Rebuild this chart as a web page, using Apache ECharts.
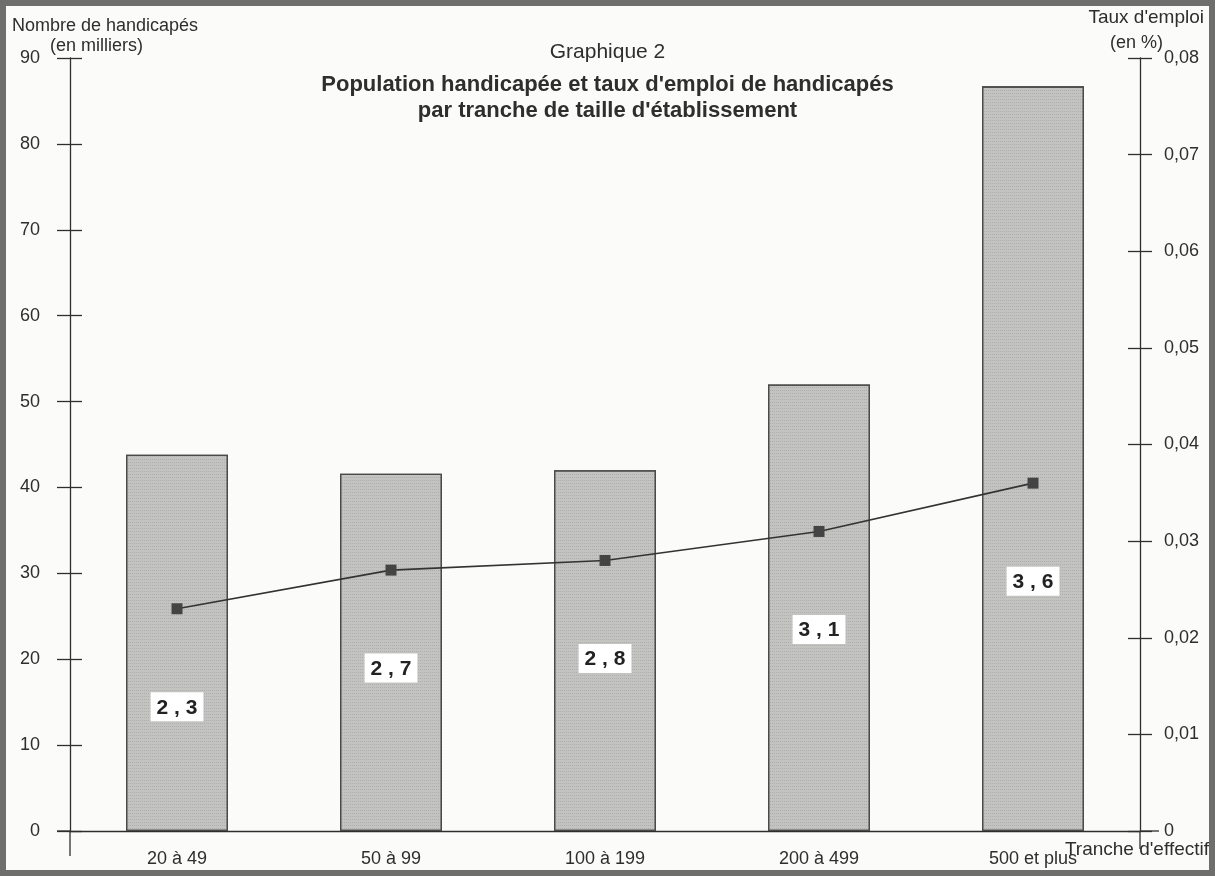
<!DOCTYPE html>
<html>
<head>
<meta charset="utf-8">
<script src="https://cdn.jsdelivr.net/npm/echarts@6/dist/echarts.min.js"></script>
<style>
  html, body { margin: 0; padding: 0; background: #fbfbf9; }
  #chart { width: 1215px; height: 876px; }
</style>
</head>
<body>
<div id="chart"></div>
<script>
// Tranches de taille d'établissement
const categories = ['20 à 49', '50 à 99', '100 à 199', '200 à 499', '500 et plus'];
// Nombre de handicapés (en milliers)
const handicapes = [43.8, 41.6, 42.0, 52.0, 86.7];
// Taux d'emploi de handicapés, tel qu'affiché dans les étiquettes
const tauxEmploi = [2.3, 2.7, 2.8, 3.1, 3.6];
// Graduations
const leftTicks = { min: 0, max: 90, interval: 10 };
const rightTicks = { min: 0, max: 0.08, interval: 0.01 };

const font = '"Liberation Sans", Arial, Helvetica, sans-serif';
const ink = '#2e2e2e';

const chart = echarts.init(document.getElementById('chart'), null, { renderer: 'canvas' });

const tickLabelStyle = { color: ink, fontSize: 18, fontFamily: font };

function rightLabel(v) {
  if (Math.abs(v) < 1e-9) return '0';
  return v.toFixed(2).replace('.', ',');
}

const option = {
  backgroundColor: '#fbfbf9',
  animation: false,
  grid: { left: 70, right: 75, top: 58, bottom: 45, containLabel: false },
  xAxis: {
    type: 'category',
    data: categories,
    boundaryGap: true,
    axisLine: { show: true, lineStyle: { color: ink, width: 1.3 } },
    axisTick: { show: false },
    axisLabel: { ...tickLabelStyle, margin: 19 }
  },
  yAxis: [
    {
      type: 'value', position: 'left',
      min: leftTicks.min, max: leftTicks.max, interval: leftTicks.interval,
      axisLine: { show: true, lineStyle: { color: ink, width: 1.3 } },
      axisTick: { show: true, inside: false, length: 13, lineStyle: { color: ink, width: 1.3 } },
      axisLabel: { ...tickLabelStyle, margin: 30 },
      splitLine: { show: false }
    },
    {
      type: 'value', position: 'right',
      min: rightTicks.min, max: rightTicks.max, interval: rightTicks.interval,
      axisLine: { show: true, lineStyle: { color: ink, width: 1.3 } },
      axisTick: { show: true, inside: false, length: 12, lineStyle: { color: ink, width: 1.3 } },
      axisLabel: { ...tickLabelStyle, margin: 24, formatter: rightLabel },
      splitLine: { show: false }
    },
    {
      // inner half of the crossing ticks on the left axis
      type: 'value', position: 'left',
      min: leftTicks.min, max: leftTicks.max, interval: leftTicks.interval,
      axisLine: { show: false },
      axisTick: { show: true, inside: true, length: 12, lineStyle: { color: ink, width: 1.3 } },
      axisLabel: { show: false },
      splitLine: { show: false }
    },
    {
      // inner half of the crossing ticks on the right axis
      type: 'value', position: 'right',
      min: rightTicks.min, max: rightTicks.max, interval: rightTicks.interval,
      axisLine: { show: false },
      axisTick: { show: true, inside: true, length: 12, lineStyle: { color: ink, width: 1.3 } },
      axisLabel: { show: false },
      splitLine: { show: false }
    }
  ],
  series: [
    {
      name: 'Nombre de handicapés',
      type: 'bar',
      yAxisIndex: 0,
      data: handicapes,
      barWidth: 102,
      itemStyle: {
        color: '#c3c3c1',
        borderColor: '#4a4a4a',
        borderWidth: 1.3,
        decal: {
          symbol: 'rect',
          symbolSize: 1,
          color: 'rgba(90,90,90,0.2)',
          dashArrayX: [1, 1],
          dashArrayY: [1, 2],
          rotation: 0
        }
      },
      z: 2
    },
    {
      name: "Taux d'emploi",
      type: 'line',
      yAxisIndex: 1,
      data: tauxEmploi.map(v => v / 100),
      symbol: 'rect',
      symbolSize: 11,
      lineStyle: { color: '#333', width: 1.6 },
      itemStyle: { color: '#444' },
      label: {
        show: true,
        position: 'bottom',
        distance: 78,
        formatter: p => String(tauxEmploi[p.dataIndex]).replace('.', ' , '),
        backgroundColor: '#ffffff',
        padding: [5, 6, 3, 6],
        color: '#222',
        fontSize: 21,
        fontWeight: 'bold',
        fontFamily: font
      },
      z: 5
    }
  ],
  graphic: [
    // page frame
    { type: 'rect', shape: { x: 3, y: 3, width: 1209, height: 870 }, style: { fill: 'none', stroke: '#6e6e6c', lineWidth: 6 }, silent: true },
    { type: 'text', left: 'center', top: 42, style: { text: 'Graphique 2', font: '21px ' + font, fill: ink, textAlign: 'center' } },
    { type: 'text', left: 'center', top: 74, style: { text: "Population handicapée et taux d'emploi de handicapés", font: 'bold 22px ' + font, fill: ink, textAlign: 'center' } },
    { type: 'text', left: 'center', top: 100, style: { text: "par tranche de taille d'établissement", font: 'bold 22px ' + font, fill: ink, textAlign: 'center' } },
    { type: 'text', x: 12, y: 17, style: { text: 'Nombre de handicapés', font: '18px ' + font, fill: ink } },
    { type: 'text', x: 50, y: 37, style: { text: '(en milliers)', font: '18px ' + font, fill: ink } },
    { type: 'text', x: 1204, y: 8, style: { text: "Taux d'emploi", font: '19px ' + font, fill: ink, textAlign: 'right' } },
    { type: 'text', x: 1110, y: 34, style: { text: '(en %)', font: '18px ' + font, fill: ink } },
    { type: 'text', x: 1209, y: 840, style: { text: "Tranche d'effectif", font: '19px ' + font, fill: ink, textAlign: 'right' } }
  ]
};

chart.setOption(option);

// axis lines run a little past the origin, as in a hand-drawn frame
const y0 = chart.convertToPixel({ yAxisIndex: 0 }, 0);
const gridRect = chart.getModel().getComponent('grid').coordinateSystem.getRect();
const lineStyle = { stroke: ink, lineWidth: 1.3 };
chart.setOption({
  graphic: option.graphic.concat([
    { type: 'line', shape: { x1: gridRect.x - 13, y1: y0, x2: gridRect.x, y2: y0 }, style: lineStyle, silent: true },
    { type: 'line', shape: { x1: gridRect.x + gridRect.width, y1: y0, x2: gridRect.x + gridRect.width + 19, y2: y0 }, style: lineStyle, silent: true },
    { type: 'line', shape: { x1: gridRect.x, y1: y0, x2: gridRect.x, y2: y0 + 25 }, style: lineStyle, silent: true },
    { type: 'line', shape: { x1: gridRect.x + gridRect.width, y1: y0, x2: gridRect.x + gridRect.width, y2: y0 + 18 }, style: lineStyle, silent: true }
  ])
});
</script>
</body>
</html>
